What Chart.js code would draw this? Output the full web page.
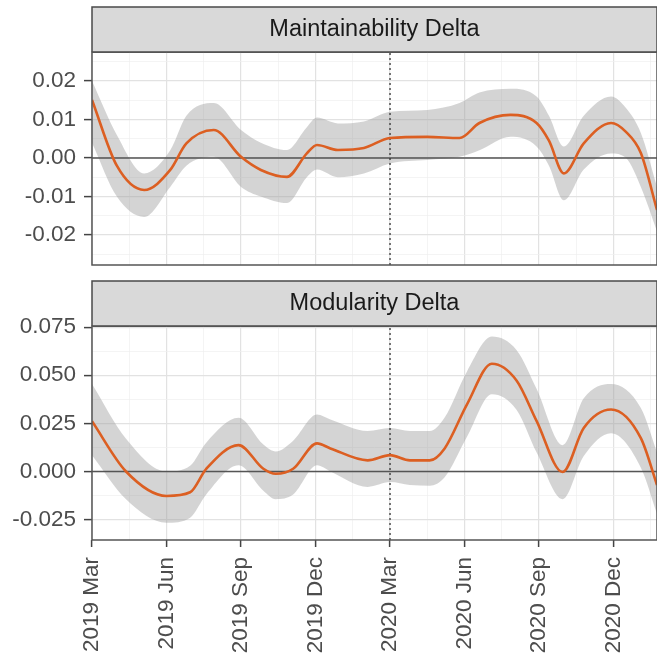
<!DOCTYPE html>
<html>
<head>
<meta charset="utf-8">
<script src="https://cdn.jsdelivr.net/npm/chart.js@4/dist/chart.umd.min.js"></script>
<style>
  html, body { margin: 0; padding: 0; background: #fff; }
  #wrap { position: relative; width: 657px; height: 658px; overflow: hidden; }
  canvas { position: absolute; left: 0; }
</style>
</head>
<body>
<div id="wrap">
  <canvas id="top" width="657" height="280" style="top:0"></canvas>
  <canvas id="bottom" width="657" height="378" style="top:280px"></canvas>
</div>
<script>
// months since 2019 Mar
const xTickMonths = [0, 3, 6, 9, 12, 15, 18, 21];
const xTickLabels = ['2019 Mar', '2019 Jun', '2019 Sep', '2019 Dec', '2020 Mar', '2020 Jun', '2020 Sep', '2020 Dec'];
const xMax = 22.75;
const markerMonth = 12; // 2020 Mar

// Maintainability Delta
const maintMonths = [0, 1, 2.1, 3.15, 3.8, 4.9, 6.0, 6.8, 7.85, 8.65, 9.06, 9.9, 10.95, 12, 13.5, 14.8, 15.6, 16.85, 17.9, 18.4, 19.0, 19.8, 20.9, 21.5, 22.1, 22.75];
const maintFit = [0.0151, -0.002, -0.0083, -0.0031, 0.0038, 0.0073, 0.0003, -0.0031, -0.0049, 0.0012, 0.0034, 0.0021, 0.0026, 0.0052, 0.0055, 0.0052, 0.0091, 0.0112, 0.0091, 0.0045, -0.004, 0.0038, 0.0091, 0.0068, 0.0013, -0.0135];
const maintUpper = [0.020, 0.006, -0.004, 0.002, 0.011, 0.0143, 0.0073, 0.004, 0.0021, 0.008, 0.0105, 0.009, 0.0095, 0.012, 0.0125, 0.0143, 0.017, 0.018, 0.016, 0.011, 0.003, 0.011, 0.016, 0.013, 0.0065, -0.0075];
const maintLower = [0.004, -0.010, -0.0153, -0.0075, -0.002, 0.0003, -0.0075, -0.010, -0.0117, -0.005, -0.003, -0.005, -0.004, -0.0014, -0.0005, 0.0003, 0.002, 0.0055, 0.003, -0.002, -0.011, -0.003, 0.0012, 0.0, -0.0075, -0.019];
const maintTicks = [-0.02, -0.01, 0, 0.01, 0.02];

// Modularity Delta
const modMonths = [0, 1.37, 3.0, 3.95, 4.6, 5.9, 6.9, 7.4, 8.1, 9.06, 9.6, 11.1, 12, 12.8, 13.6, 14.2, 15.1, 16.1, 17.1, 17.9, 18.95, 19.8, 20.9, 22.1, 22.75];
const modFit = [0.0261, 0.0, -0.0127, -0.0108, 0.0014, 0.0137, 0.0014, -0.0012, 0.0014, 0.0146, 0.012, 0.0058, 0.0085, 0.0058, 0.0058, 0.012, 0.0349, 0.056, 0.0472, 0.0263, -0.0003, 0.0226, 0.0322, 0.0173, -0.007];
const modUpper = [0.0455, 0.017, 0.0, 0.003, 0.015, 0.0279, 0.014, 0.0104, 0.016, 0.0296, 0.027, 0.021, 0.0226, 0.021, 0.021, 0.028, 0.052, 0.0701, 0.063, 0.043, 0.0137, 0.038, 0.0455, 0.033, 0.010];
const modLower = [0.0085, -0.0144, -0.0266, -0.024, -0.012, 0.0032, -0.010, -0.0144, -0.012, 0.0032, 0.0, -0.008, -0.0055, -0.007, -0.0074, -0.003, 0.018, 0.0402, 0.032, 0.010, -0.0144, 0.008, 0.0199, 0.002, -0.022];
const modTicks = [-0.025, 0, 0.025, 0.05, 0.075];

const FONT = '"Liberation Sans", Arial, sans-serif';
const near = (list, v) => list.some(t => Math.abs(t - v) < 1e-9);

const stripPlugin = {
  id: 'strip',
  beforeDraw(chart) {
    const { ctx, chartArea } = chart;
    const tb = chart.titleBlock;
    ctx.save();
    ctx.fillStyle = '#d9d9d9';
    ctx.fillRect(chartArea.left, tb.top, chartArea.right - chartArea.left, chartArea.top - tb.top);
    ctx.strokeStyle = '#4a4a4a';
    ctx.lineWidth = 1.5;
    ctx.strokeRect(chartArea.left, tb.top, chartArea.right - chartArea.left, chartArea.top - tb.top);
    ctx.restore();
  },
  afterDraw(chart) {
    const { ctx, chartArea } = chart;
    ctx.save();
    ctx.strokeStyle = '#555';
    ctx.lineWidth = 1.5;
    ctx.strokeRect(chartArea.left, chartArea.top, chartArea.right - chartArea.left, chartArea.bottom - chartArea.top);
    ctx.restore();
  }
};

function pts(xs, ys) {
  return xs.map((x, i) => ({ x: x, y: ys[i] }));
}

function makePanel(id, title, months, fit, upper, lower, yMin, yMax, yTicks, decimals, showX, pad) {
  const step = yTicks[1] - yTicks[0];
  const yAll = [];
  for (let v = yTicks[0] - step / 2; v <= yMax; v += step / 2) {
    if (v >= yMin) yAll.push(+v.toFixed(6));
  }
  const xAll = [];
  for (let v = 0; v <= xMax; v += 1.5) xAll.push(v);

  new Chart(document.getElementById(id), {
    type: 'line',
    data: {
      datasets: [
        { data: pts(months, upper), borderWidth: 0, pointRadius: 0, fill: '+1', order: 3,
          backgroundColor: 'rgba(160,160,160,0.45)', cubicInterpolationMode: 'monotone' },
        { data: pts(months, lower), borderWidth: 0, pointRadius: 0, fill: false, order: 4,
          cubicInterpolationMode: 'monotone' },
        { data: [{ x: 0, y: 0 }, { x: xMax, y: 0 }], borderColor: '#555', borderWidth: 1.3,
          pointRadius: 0, fill: false, order: 2 },
        { data: [{ x: markerMonth, y: yMin }, { x: markerMonth, y: yMax }], borderColor: '#333',
          borderWidth: 1.3, borderDash: [2, 3], pointRadius: 0, fill: false, order: 1 },
        { data: pts(months, fit), borderColor: '#dc5f22', borderWidth: 2.6, pointRadius: 0,
          fill: false, cubicInterpolationMode: 'monotone', order: 0 }
      ]
    },
    options: {
      responsive: false,
      animation: false,
      devicePixelRatio: 1,
      layout: { padding: pad },
      plugins: {
        legend: { display: false },
        tooltip: { enabled: false },
        title: {
          display: true, text: title, fullSize: false, color: '#1a1a1a',
          font: { family: FONT, size: 23.5, weight: 'normal' },
          padding: { top: 8.5, bottom: 8.5 }
        }
      },
      scales: {
        x: {
          type: 'linear', min: 0, max: xMax,
          afterBuildTicks: s => { s.ticks = xAll.map(v => ({ value: v })); },
          afterFit: s => { s.height = showX ? 118 : 0; s.paddingRight = 0; s.paddingLeft = 0; },
          border: { display: false },
          grid: {
            drawTicks: showX, tickLength: 7,
            color: c => near(xTickMonths, c.tick.value) ? '#e2e2e2' : '#efefef',
            lineWidth: c => near(xTickMonths, c.tick.value) ? 1.2 : 0.7,
            tickColor: c => near(xTickMonths, c.tick.value) ? '#444' : 'rgba(0,0,0,0)',
            tickWidth: 1.5
          },
          ticks: {
            display: showX, autoSkip: false, minRotation: 90, maxRotation: 90, padding: 10,
            color: '#4d4d4d', font: { family: FONT, size: 22.5 },
            callback: v => {
              const i = xTickMonths.findIndex(t => Math.abs(t - v) < 1e-9);
              return i >= 0 ? xTickLabels[i] : '';
            }
          }
        },
        y: {
          type: 'linear', min: yMin, max: yMax,
          afterBuildTicks: s => { s.ticks = yAll.map(v => ({ value: v })); },
          afterFit: s => { s.width = 92; s.paddingTop = 0; s.paddingBottom = 0; },
          border: { display: false },
          grid: {
            tickLength: 8,
            color: c => near(yTicks, c.tick.value) ? '#e2e2e2' : '#efefef',
            lineWidth: c => near(yTicks, c.tick.value) ? 1.2 : 0.7,
            tickColor: c => near(yTicks, c.tick.value) ? '#444' : 'rgba(0,0,0,0)',
            tickWidth: 1.5
          },
          ticks: {
            autoSkip: false, padding: 8, color: '#4d4d4d',
            font: { family: FONT, size: 22.5 },
            callback: v => near(yTicks, v) ? v.toFixed(decimals) : ''
          }
        }
      }
    },
    plugins: [stripPlugin]
  });
}

makePanel('top', 'Maintainability Delta', maintMonths, maintFit, maintUpper, maintLower,
  -0.0278, 0.0275, maintTicks, 2, false, { top: 7, bottom: 15, left: 0, right: 0 });
makePanel('bottom', 'Modularity Delta', modMonths, modFit, modUpper, modLower,
  -0.0356, 0.0755, modTicks, 3, true, { top: 1, bottom: 0, left: 0, right: 0 });
</script>
</body>
</html>
